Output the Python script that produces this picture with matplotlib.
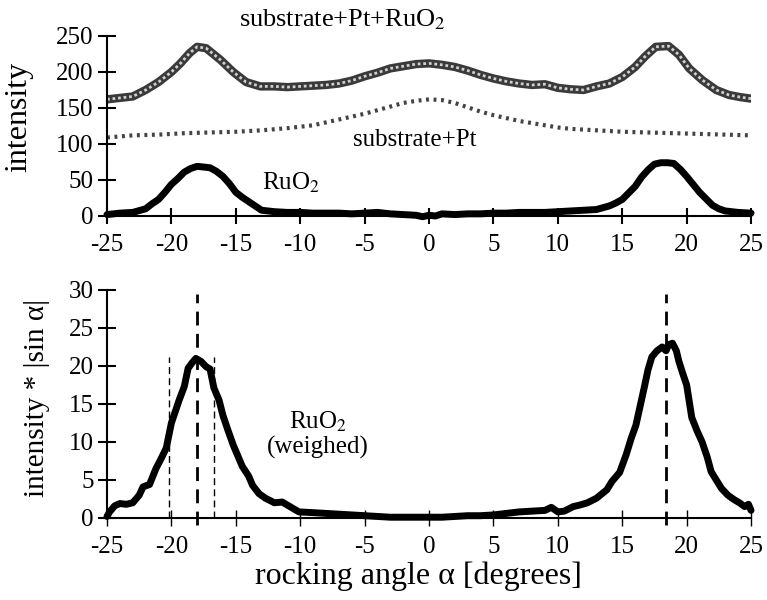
import numpy as np
import matplotlib
matplotlib.use('Agg')
import matplotlib.pyplot as plt

plt.rcParams['font.family'] = ['Liberation Serif', 'DejaVu Serif']
plt.rcParams['mathtext.fontset'] = 'stix'
plt.rcParams['axes.unicode_minus'] = False

# substrate+Pt+RuO2 (total)
x_tot = [-25, -24, -23, -22, -21, -20, -19.3, -18.6, -18, -17.3, -16.2, -15.2, -14.2, -13.1, -12, -11, -10, -9, -8,
         -7, -6, -5, -4, -3, -2, -1, 0, 1, 2, 3, 4, 5, 6, 7, 8, 9, 10, 11, 12, 13, 14, 15, 16, 16.8, 17.6, 18.6,
         19.4, 20.2, 21.2, 22.3, 23.3, 24.2, 25]
y_tot = [162, 164, 166, 175, 186, 200, 212, 226, 235, 233, 217, 200, 186, 180, 180, 179, 180, 181, 182,
         184, 188, 194, 199, 205, 208, 211, 212, 210, 207, 202, 196, 191, 187, 184, 182, 183, 178, 176, 175, 180,
         184, 193, 207, 222, 235, 236, 224, 205, 189, 175, 168, 165, 163]

# substrate+Pt
x_sub = [-25, -23, -21, -19, -17, -15, -13, -11, -9, -7, -5, -4, -3, -2, -1, 0, 1, 2, 3, 4, 5, 6, 7, 8, 9, 10,
         11, 13, 15, 17, 19, 21, 23, 25]
y_sub = [109, 112, 113, 115, 116, 117, 119, 122, 126, 134, 142, 147, 152, 157, 160, 162, 161, 157, 151, 145,
         140, 136, 132, 129, 126, 123, 121, 119, 117, 116, 115, 114, 113, 112]

# RuO2 (difference)
x_ru = [-25, -24, -23, -22, -21.5, -21, -20.5, -20, -19.5, -19, -18.5, -18, -17.5, -17, -16.5, -16, -15.5, -15,
        -14.5, -14, -13.5, -13, -12, -11, -10, -9, -8, -7, -6, -5, -4, -3, -2, -1, -0.5, 0, 0.5, 1, 2, 3, 4, 5,
        6, 7, 8, 9, 10, 11, 12, 13, 14, 14.5, 15, 15.5, 16, 16.5, 17, 17.5, 18, 18.5, 19, 19.5, 20, 20.5, 21,
        21.5, 22, 22.5, 23, 24, 25]
y_ru = [2, 4, 5, 10, 17, 23, 33, 44, 52, 61, 66, 69, 68, 67, 62, 55, 45, 33,
        26, 20, 14, 8, 6, 5, 5, 4, 4, 4, 3, 4, 5, 3, 2, 1, -1, 1, 0, 3, 2, 3, 3, 4,
        4, 5, 5, 5, 6, 7, 8, 9, 14, 18, 23, 32, 41, 54, 64, 72, 74, 74, 73, 65, 55, 44, 33,
        24, 15, 10, 7, 5, 4]

# RuO2 weighed with |sin alpha|
x_w = [-25, -24.8, -24.4, -24, -23.5, -23, -22.5, -22.2, -21.7, -21.2, -20.8, -20.4, -20, -19.7, -19.4, -19,
       -18.7, -18.4, -18.1, -17.7, -17.3, -17, -16.7, -16.3, -16, -15.6, -15.2, -14.8, -14.5, -14, -13.7, -13.2,
       -12.7, -12, -11.4, -11, -10.1, -9, -8, -7, -6, -5, -4, -3, -2, -1, 0, 1, 2, 3, 4, 5, 6, 7, 8, 9, 9.5,
       10, 10.5, 11.2, 11.7, 12.3, 13.0, 13.8, 14.2, 14.8, 15.3, 15.7, 16.06, 16.4, 16.7, 17.0, 17.3, 17.7,
       18.1, 18.4, 18.6, 18.9, 19.2, 19.4, 19.7, 20.0, 20.4, 20.8, 21.2, 21.6, 21.9, 22.3, 22.7, 23.2, 23.7,
       24.1, 24.5, 24.8, 25]
y_w = [0.2, 0.8, 1.6, 1.9, 1.8, 2.0, 3.0, 4.1, 4.4, 6.5, 7.8, 9.2, 12.5, 14.0, 15.5, 17.3,
       19.7, 20.4, 21.0, 20.6, 19.9, 19.6, 17.1, 15.5, 13.5, 11.5, 9.6, 8.0, 6.8, 5.5, 4.3, 3.2,
       2.6, 2.0, 2.1, 1.7, 0.8, 0.7, 0.6, 0.5, 0.4, 0.3, 0.2, 0.1, 0.1, 0.1, 0.1, 0.1, 0.2, 0.3, 0.3, 0.4, 0.6,
       0.8, 0.9, 1.0, 1.4,
       0.8, 0.9, 1.5, 1.7, 2.0, 2.6, 3.7, 4.8, 6.0, 8.3, 10.5, 12.2, 14.8, 17.1, 19.5, 21.2, 22.0,
       22.5, 22.0, 22.8, 23.0, 22.0, 20.6, 19.0, 17.5, 13.2, 11.5, 10.0, 8.0, 6.1, 5.0, 3.9, 3.0, 2.4,
       2.0, 1.5, 1.8, 1.0]

peak_lines = [-18.0, 18.4]      # thick dashed
fwhm_lines = [-20.2, -16.7]     # thin dashed

xticks = np.arange(-25, 26, 5)

fig = plt.figure(figsize=(7.67, 6), dpi=100)
ax1 = fig.add_axes([0.1395, 0.64, 0.8397, 0.30])
ax2 = fig.add_axes([0.1395, 0.1367, 0.8397, 0.38])

# top panel
ax1.plot(x_tot, y_tot, color='#3a3a3a', lw=6, solid_capstyle='round')
ax1.plot(x_tot, y_tot, color='#d0d0d0', lw=2, linestyle=(0, (1, 1)))
ax1.plot(x_sub, y_sub, color='#444444', lw=3, linestyle=(0, (0.7, 1.1)))
ax1.plot(x_ru, y_ru, color='black', lw=5, solid_capstyle='round', clip_on=False)

ax1.set_xlim(-25, 25)
ax1.set_ylim(0, 250)
ax1.set_yticks([0, 50, 100, 150, 200, 250])
ax1.set_xticks(xticks)
ax1.set_ylabel('intensity', fontsize=23)
ax1.yaxis.set_label_coords(-0.115, 0.55)
ax1.text(-6.7, 272, 'substrate+Pt+RuO$_2$', fontsize=19, ha='center', va='center', clip_on=False)
ax1.text(-1.1, 105, 'substrate+Pt', fontsize=18, ha='center', va='center')
ax1.text(-10.7, 46, 'RuO$_2$', fontsize=18, ha='center', va='center')

# bottom panel
ax2.plot(x_w, y_w, color='black', lw=5, solid_capstyle='round', clip_on=False)
for xv in peak_lines:
    ax2.plot([xv, xv], [-0.9, 29.5], color='black', lw=2, linestyle=(0, (5, 3)), clip_on=False)
for xv in fwhm_lines:
    ax2.plot([xv, xv], [0, 21.2], color='black', lw=1, linestyle=(0, (5, 3)), clip_on=False)
ax2.text(-8.6, 12.6, 'RuO$_2$', fontsize=18, ha='center', va='center')
ax2.text(-8.6, 9.3, '(weighed)', fontsize=18, ha='center', va='center')

ax2.set_xlim(-25, 25)
ax2.set_ylim(0, 30)
ax2.set_yticks([0, 5, 10, 15, 20, 25, 30])
ax2.set_xticks(xticks)
ax2.set_ylabel('intensity * |sin α|', fontsize=21)
ax2.yaxis.set_label_coords(-0.0885, 0.526)
ax2.set_xlabel('rocking angle α [degrees]', fontsize=23)
ax2.xaxis.set_label_coords(0.483, -0.193)

for ax in (ax1, ax2):
    ax.spines['top'].set_visible(False)
    ax.spines['right'].set_visible(False)
    ax.spines['left'].set_linewidth(1.5)
    ax.spines['bottom'].set_linewidth(1.5)
    ax.tick_params(axis='y', direction='inout', length=13, width=1.5, labelsize=18, pad=3)
    ax.tick_params(axis='x', direction='inout', length=12, width=1.5, labelsize=18, pad=7)
ax2.tick_params(axis='x', width=1)

fig.savefig('out.png', dpi=100)
